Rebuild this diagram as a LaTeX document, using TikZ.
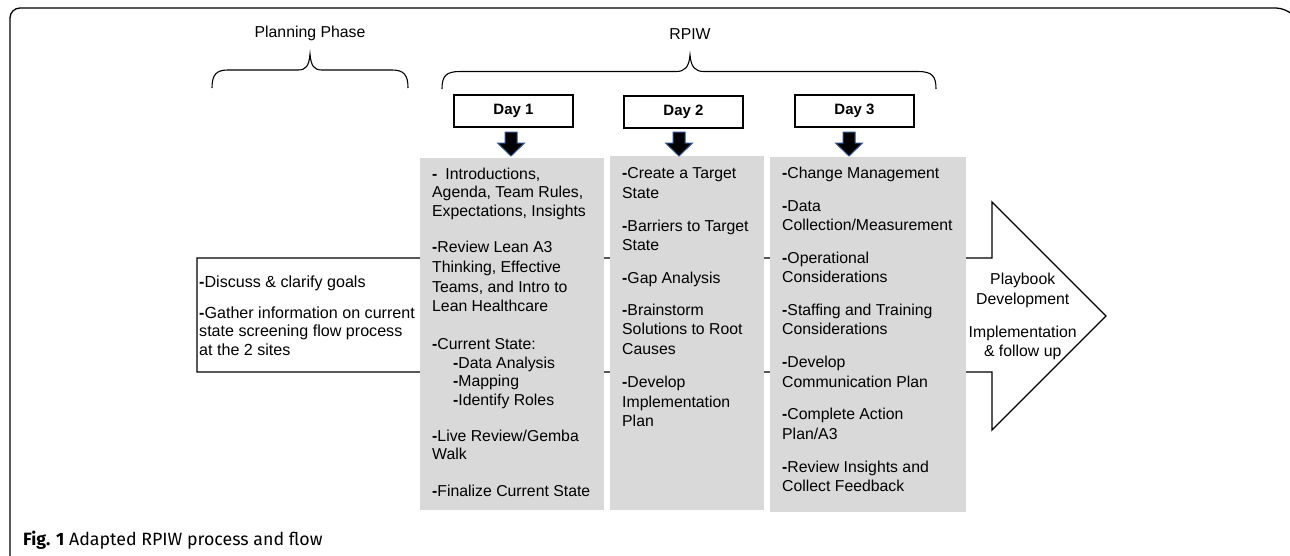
\documentclass[tikz,border=0pt]{standalone}
\usepackage{fontspec}
\setmainfont{Liberation Sans}
\newfontfamily\capfont{Fira Sans}
\definecolor{colgray}{RGB}{217,217,217}
\definecolor{arrblue}{RGB}{47,82,143}
\newcommand{\bd}{\textbf{-}}
\begin{document}
\begin{tikzpicture}[x=1pt,y=-1pt,
  ln/.style={anchor=base west,inner sep=0,font=\fontsize{15.8}{18}\selectfont},
  lnl/.style={anchor=base west,inner sep=0,font=\fontsize{16.1}{18}\selectfont},
  ctr/.style={anchor=base,inner sep=0,font=\fontsize{15.8}{18}\selectfont},
  daybox/.style={draw=black,line width=1.2pt,fill=white,minimum width=119pt,minimum height=32pt,inner sep=0,font=\bfseries\fontsize{15}{18}\selectfont},
  colbox/.style={fill=colgray,draw=none,anchor=north west,inner sep=0},
  bracepath/.style={draw=black,line width=1.1pt},
  downarr/.style={fill=black,draw=arrblue,line width=1pt,line join=miter}]

\useasboundingbox (0,0) rectangle (1290,555);
\fill[white] (0,0) rectangle (1290,555);

% outer frame
\draw[line width=1.3pt,rounded corners=10pt] (10,556) -- (10,8) -- (1286,8) -- (1290,12);

% big flow arrow
\draw[line width=1.3pt,fill=white,line join=miter] (197,258) -- (992,258) -- (992,202) -- (1106,316) -- (992,430) -- (992,372) -- (197,372) -- cycle;

% labels above braces
\node[ctr] (plan) at (310,37.5) {Planning Phase};
\node[ctr] (rpiw) at (690,39) {RPIW};

% braces
\draw[bracepath] (212,88) .. controls (212,75) and (216,70) .. (228,70) -- (298,70)
  .. controls (306,70) and (309,66) .. (310,54) .. controls (311,66) and (314,70) .. (322,70)
  -- (392,70) .. controls (404,70) and (408,75) .. (408,88);
\draw[bracepath] (442,89) .. controls (442,76) and (446,71.5) .. (460,71.5) -- (676,71.5)
  .. controls (685,71.5) and (689,67) .. (690,55) .. controls (691,67) and (695,71.5) .. (704,71.5)
  -- (918,71.5) .. controls (932,71.5) and (936,76) .. (936,89);

% day boxes
\node[daybox] (d1) at (513.5,111) {Day 1};
\node[daybox] (d2) at (683.5,112) {Day 2};
\node[daybox] (d3) at (854.5,111) {Day 3};

% columns
\node[colbox,minimum width=184pt,minimum height=352pt] (c1) at (420,157.5) {};
\node[colbox,minimum width=154pt,minimum height=354pt] (c2) at (610,155.8) {};
\node[colbox,minimum width=196pt,minimum height=355pt] (c3) at (770,156.7) {};

% down arrows
\coordinate (a1) at (511,132);
\coordinate (a2) at (679,132);
\coordinate (a3) at (849,132);
\foreach \a in {a1,a2,a3}{
  \draw[downarr] (\a) ++(-6,0) -- ++(0,11) -- ++(-7.5,0) -- ++(13.5,13) -- ++(13.5,-13) -- ++(-7.5,0) -- ++(0,-11) -- cycle;
}

% left box text
\node[lnl] (l1) at (199,287.5) {\bd Discuss \& clarify goals};
\node[lnl] (l2) at (199,318.5) {\bd Gather information on current};
\node[lnl] (l3) at (199,336.8) {state screening flow process};
\node[lnl] (l4) at (199,355) {at the 2 sites};

% column 1
\node[ln] (c1a) at (432,179.8) {\bd\hspace{8pt}Introductions,};
\node[ln] (c1b) at (432,197.8) {Agenda, Team Rules,};
\node[ln] (c1c) at (432,216.2) {Expectations, Insights};
\node[ln] (c1d) at (432,252.8) {\bd Review Lean A3};
\node[ln] (c1e) at (432,272.5) {Thinking, Effective};
\node[ln] (c1f) at (432,292.2) {Teams, and Intro to};
\node[ln] (c1g) at (432,311.8) {Lean Healthcare};
\node[ln] (c1h) at (432,349.8) {\bd Current State:};
\node[ln] (c1i) at (453,368.2) {\bd Data Analysis};
\node[ln] (c1j) at (453,386.8) {\bd Mapping};
\node[ln] (c1k) at (453,405.2) {\bd Identify Roles};
\node[ln] (c1l) at (432,441.5) {\bd Live Review/Gemba};
\node[ln] (c1m) at (432,459.5) {Walk};
\node[ln] (c1n) at (432,496.5) {\bd Finalize Current State};

% column 2
\node[ln] (c2a) at (622,178.8) {\bd Create a Target};
\node[ln] (c2b) at (622,198.8) {State};
\node[ln] (c2c) at (622,231.5) {\bd Barriers to Target};
\node[ln] (c2d) at (622,250.5) {State};
\node[ln] (c2e) at (622,283.2) {\bd Gap Analysis};
\node[ln] (c2f) at (622,315.5) {\bd Brainstorm};
\node[ln] (c2g) at (622,334.8) {Solutions to Root};
\node[ln] (c2h) at (622,354.5) {Causes};
\node[ln] (c2i) at (622,387.8) {\bd Develop};
\node[ln] (c2j) at (622,407.2) {Implementation};
\node[ln] (c2k) at (622,426.5) {Plan};

% column 3
\node[ln] (c3a) at (782,178.8) {\bd Change Management};
\node[ln] (c3b) at (782,211.2) {\bd Data};
\node[ln] (c3c) at (782,230.5) {Collection/Measurement};
\node[ln] (c3d) at (782,263.2) {\bd Operational};
\node[ln] (c3e) at (782,282.8) {Considerations};
\node[ln] (c3f) at (782,315.5) {\bd Staffing and Training};
\node[ln] (c3g) at (782,334.8) {Considerations};
\node[ln] (c3h) at (782,367.8) {\bd Develop};
\node[ln] (c3i) at (782,387.2) {Communication Plan};
\node[ln] (c3j) at (782,419.8) {\bd Complete Action};
\node[ln] (c3k) at (782,439.5) {Plan/A3};
\node[ln] (c3l) at (782,472.2) {\bd Review Insights and};
\node[ln] (c3m) at (782,491.5) {Collect Feedback};

% arrow labels
\node[ctr] (p1) at (1022.7,284.5) {Playbook};
\node[ctr] (p2) at (1022.7,304.5) {Development};
\node[ctr] (p3) at (1022.7,337.2) {Implementation};
\node[ctr] (p4) at (1022.7,356.5) {\& follow up};

% caption
\node[anchor=base west,inner sep=0,font=\capfont\fontsize{17.8}{20}\selectfont] (cap) at (23,545) {\textbf{Fig. 1} Adapted RPIW process and flow};
\end{tikzpicture}
\end{document}
